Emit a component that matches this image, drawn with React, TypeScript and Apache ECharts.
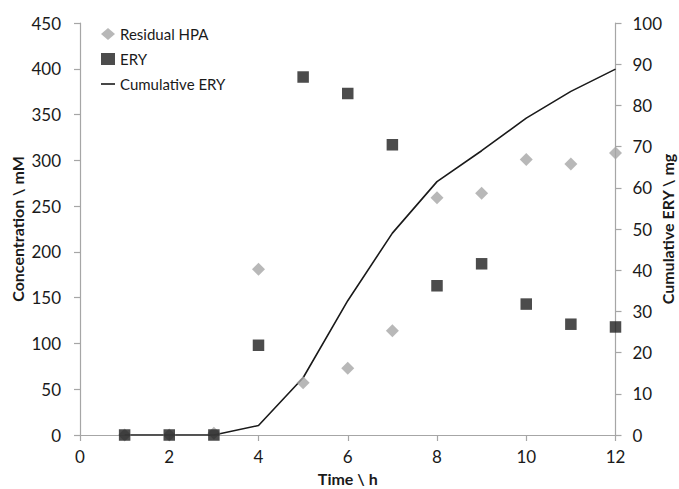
import React, { useEffect, useRef } from "react";
import * as echarts from "echarts";

const timeH = [1, 2, 3, 4, 5, 6, 7, 8, 9, 10, 11, 12];
const residualHPA = [0, 0, 2, 181, 57, 73, 114, 259, 264, 301, 296, 308];
const ery = [0, 0, 0, 98, 391, 373, 317, 163, 187, 143, 121, 118];
const cumulativeERY = [0, 0, 0, 2.3, 13.9, 32.6, 49, 61.5, 69, 76.9, 83.4, 88.8];

const FONT = "Lato, 'Open Sans', sans-serif";

export default function App() {
  const ref = useRef<HTMLDivElement>(null);
  useEffect(() => {
    if (!ref.current) return;
    const chart = echarts.init(ref.current, undefined, { renderer: "svg" });
    const axisLine = { show: true, lineStyle: { color: "#a6a6a6", width: 1.2 } };
    const axisTick = { show: true, length: 6, lineStyle: { color: "#a6a6a6", width: 1.2 } };
    chart.setOption({
      animation: false,
      backgroundColor: "#ffffff",
      textStyle: { fontFamily: FONT },
      grid: { left: 80, right: 63.5, top: 23, bottom: 54, containLabel: false, outerBoundsMode: "none" },
      legend: {
        orient: "vertical",
        left: 96,
        top: 21,
        itemWidth: 14,
        itemHeight: 12,
        itemGap: 9,
        textStyle: { fontFamily: FONT, fontSize: 15, color: "#1a1a1a", lineHeight: 16 },
        data: [
          { name: "Residual HPA", icon: "diamond" },
          { name: "ERY", icon: "rect" },
          { name: "Cumulative ERY", icon: "path://M0,0h14v1.6h-14z" },
        ],
      },
      xAxis: {
        type: "value",
        min: 0,
        max: 12,
        interval: 2,
        name: "Time \\ h",
        nameLocation: "middle",
        nameGap: 35,
        nameMoveOverlap: false,
        nameTextStyle: { fontFamily: FONT, fontSize: 16, fontWeight: "bold", color: "#1a1a1a" },
        axisLine,
        axisTick,
        splitLine: { show: false },
        axisLabel: { fontFamily: FONT, fontSize: 17, color: "#1a1a1a", margin: 13 },
      },
      yAxis: [
        {
          type: "value",
          min: 0,
          max: 450,
          interval: 50,
          name: "Concentration \\ mM",
          nameLocation: "middle",
          nameGap: 55,
          nameMoveOverlap: false,
          nameTextStyle: { fontFamily: FONT, fontSize: 16, fontWeight: "bold", color: "#1a1a1a" },
          axisLine,
          axisTick,
          splitLine: { show: false },
          axisLabel: { fontFamily: FONT, fontSize: 17, color: "#1a1a1a", margin: 19 },
        },
        {
          type: "value",
          min: 0,
          max: 100,
          interval: 10,
          position: "right",
          name: "Cumulative ERY \\ mg",
          nameLocation: "middle",
          nameGap: 44,
          nameMoveOverlap: false,
          nameRotate: 90,
          nameTextStyle: { fontFamily: FONT, fontSize: 16, fontWeight: "bold", color: "#1a1a1a" },
          axisLine,
          axisTick,
          splitLine: { show: false },
          axisLabel: { fontFamily: FONT, fontSize: 17, color: "#1a1a1a", margin: 17 },
        },
      ],
      series: [
        {
          name: "Cumulative ERY",
          type: "line",
          yAxisIndex: 1,
          symbol: "none",
          lineStyle: { color: "#1a1a1a", width: 1.6 },
          itemStyle: { color: "#1a1a1a" },
          data: timeH.map((t, i) => [t, cumulativeERY[i]]),
          z: 1,
        },
        {
          name: "Residual HPA",
          type: "scatter",
          symbol: "diamond",
          symbolSize: 13,
          itemStyle: { color: "#a6a6a6" },
          data: timeH.map((t, i) => [t, residualHPA[i]]),
          z: 2,
        },
        {
          name: "ERY",
          type: "scatter",
          symbol: "rect",
          symbolSize: 11.5,
          itemStyle: { color: "#1f1f1f" },
          data: timeH.map((t, i) => [t, ery[i]]),
          z: 3,
        },
      ],
    });
    return () => chart.dispose();
  }, []);
  return <div ref={ref} style={{ width: 679, height: 489, position: "absolute", left: 0, top: 0 }} />;
}
